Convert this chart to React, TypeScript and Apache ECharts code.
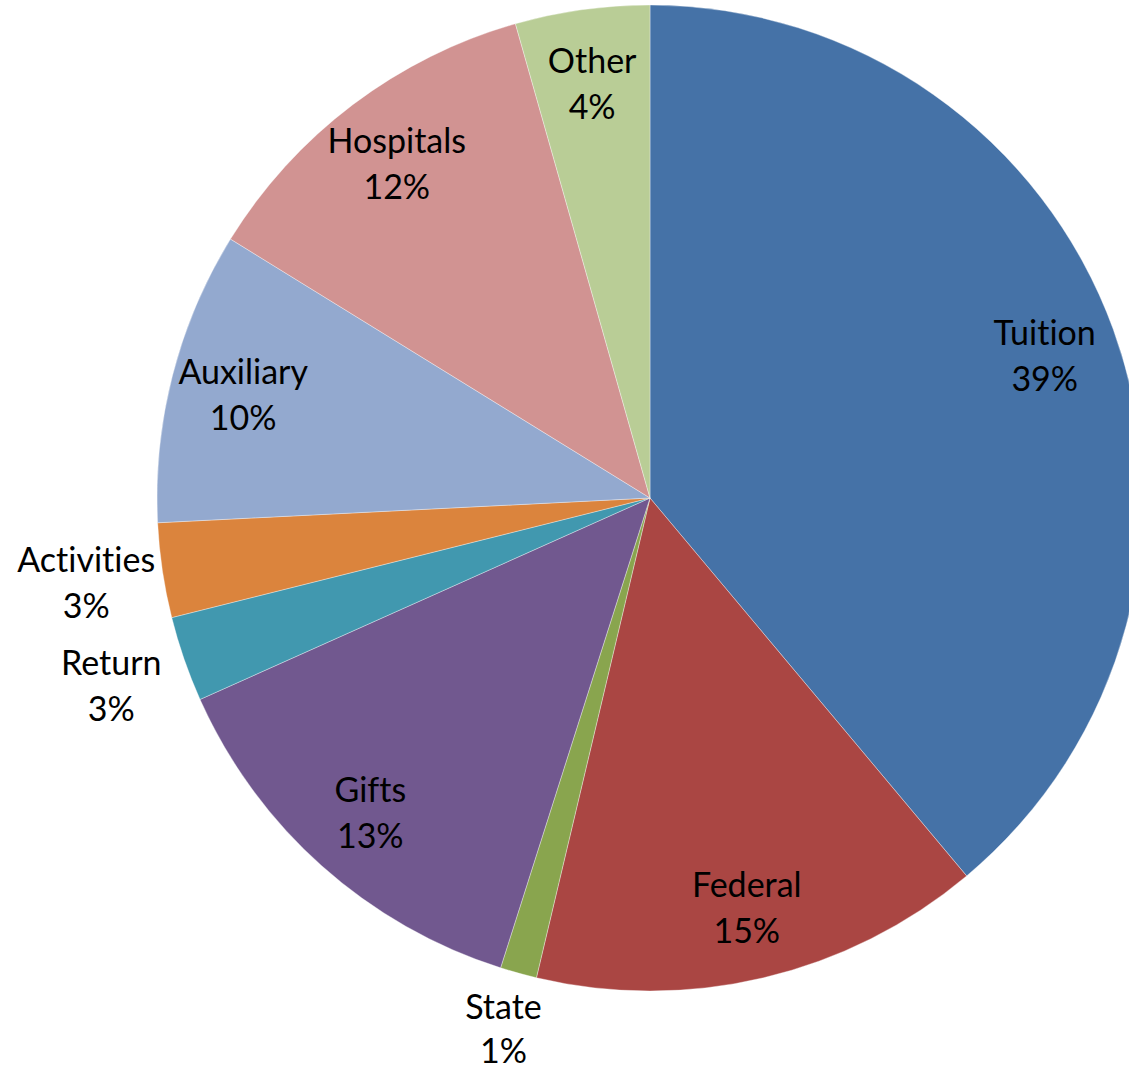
import React, { useEffect, useRef } from "react";
import * as echarts from "echarts";

const categories = ["Tuition", "Federal", "State", "Gifts", "Return", "Activities", "Auxiliary", "Hospitals", "Other"];
const values = [38.9, 14.8, 1.2, 13.4, 2.8, 3.1, 9.6, 11.8, 4.4];
const colors = ["#4572A7", "#AA4643", "#89A54E", "#71588F", "#4198AF", "#DB843D", "#93A9CF", "#D19392", "#B9CD96"];
const bottomLabels = ["State"];
const sideLabels = ["Return", "Activities"];

const CENTER = [650, 498];
const R = 493;

export default function App() {
  const ref = useRef<HTMLDivElement>(null);
  useEffect(() => {
    if (!ref.current) return;
    const chart = echarts.init(ref.current, undefined, { renderer: "svg" });
    const labelStyle = {
      fontFamily: "Lato, 'Liberation Sans', sans-serif",
      fontSize: 34,
      lineHeight: 46,
      color: "#000",
      align: "center" as const,
      formatter: (p: any) => `${p.name}\n${Math.round(p.percent)}%`,
    };
    const mainData = categories.map((c, i) => ({ name: c, value: values[i], itemStyle: { color: colors[i] } }));
    const labelData = (pred: (c: string) => boolean) =>
      categories.map((c, i) => ({ name: c, value: values[i], label: { show: pred(c) } }));
    const labelSeriesBase = {
      type: "pie",
      center: CENTER,
      startAngle: 90,
      clockwise: true,
      silent: true,
      emphasis: { disabled: true },
      itemStyle: { color: "rgba(0,0,0,0)", borderWidth: 0 },
      labelLine: { show: false },
    };
    chart.setOption({
      animation: false,
      backgroundColor: "#fff",
      series: [
        {
          type: "pie",
          center: CENTER,
          radius: [0, R],
          startAngle: 90,
          clockwise: true,
          silent: true,
          emphasis: { disabled: true },
          label: { show: false },
          labelLine: { show: false },
          itemStyle: { borderColor: "rgba(255,255,255,0.35)", borderWidth: 1 },
          data: mainData,
        },
        {
          ...labelSeriesBase,
          radius: [341, R],
          label: { ...labelStyle, position: "inside" },
          data: labelData((c) => !bottomLabels.includes(c) && !sideLabels.includes(c)),
        },
        {
          ...labelSeriesBase,
          radius: [R, 599],
          label: { ...labelStyle, lineHeight: 44, position: "inside" },
          data: labelData((c) => bottomLabels.includes(c)),
        },
        {
          ...labelSeriesBase,
          radius: [R, 641],
          label: { ...labelStyle, position: "inside" },
          data: labelData((c) => sideLabels.includes(c)),
        },
      ],
    });
    return () => chart.dispose();
  }, []);
  return (
    <div
      ref={ref}
      style={{
        position: "absolute",
        left: 0,
        top: 0,
        width: 1129,
        height: 1071,
        fontVariantLigatures: "none",
        fontFeatureSettings: '"liga" 0, "clig" 0',
      }}
    />
  );
}
